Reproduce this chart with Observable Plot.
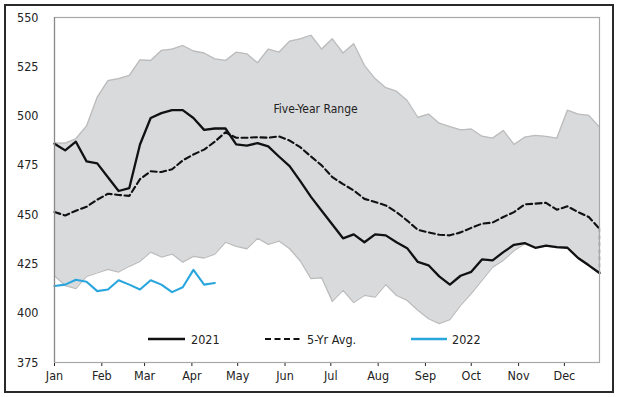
<!DOCTYPE html>
<html><head><meta charset="utf-8">
<script src="https://cdn.jsdelivr.net/npm/d3@7"></script>
<script src="https://cdn.jsdelivr.net/npm/@observablehq/plot@0.6"></script>
<style>
body{margin:0;background:#fff;}
#wrap{position:relative;width:620px;height:397px;font-family:"Liberation Sans Narrow","DejaVu Sans Condensed",sans-serif;}
#frame{position:absolute;left:4px;top:4px;width:606px;height:385px;border:2px solid #2a2a2a;pointer-events:none;}
#legend{position:absolute;left:0;top:0;pointer-events:none;}
</style>
</head><body>
<div id="wrap"><div id="chart"></div><svg id="legend" width="620" height="397"></svg><div id="frame"></div></div>
<script>
const monthLabels = ["Jan","Feb","Mar","Apr","May","Jun","Jul","Aug","Sep","Oct","Nov","Dec"];
const yTicks = [375,400,425,450,475,500,525,550];
const seriesNames = ["2021","5-Yr Avg.","2022"];
const rangeLabel = "Five-Year Range";

const y2021 = [486,482.6,487,477,476,469,462,463.5,485.6,499,501.5,503,503,499,493,493.7,493.7,485.6,485,486.3,484.6,479.5,474.6,467,459,452,445,438,440,436,440,439.5,436,433,426,424.3,418.7,414.5,419,421,427.3,426.8,431,434.7,435.6,433.2,434.3,433.5,433.2,428,424.3,420.4];
const yAvg = [451.3,449.6,452,454,457.6,460.6,460,459.5,468,472,471.6,473,477.5,480.5,483,487,491.8,489,489,489.3,489,489.7,487.6,484.2,479.5,475,469,465.5,462.3,458,456.4,454.7,451.3,447,442.3,441,439.8,439.5,441,443.3,445.4,446,448.8,451.3,455.2,455.6,456,452.5,454.2,451.3,448.8,442.8];
const y2022 = [413.8,414.5,417,416,411.2,412,416.7,414.5,412,416.7,414.5,410.7,413.2,422,414.5,415.3];
const rangeHigh = [486.3,486.3,488.5,495,509.6,518,519,520.6,528.5,528.2,533.3,534,535.8,533,532,529,528.2,532.4,531.6,527,534,532.4,538,539.2,541,534,539.2,532,536.7,525.7,519,514.4,512.6,507.9,499.4,501,496.4,494.7,493,493.4,489.8,488.8,492.7,485.6,489.3,490.2,489.7,488.8,503,501,500.3,494.4];
const rangeLow = [419,414,412.5,418.7,420.4,422.2,420.9,423.8,426.3,431,428.5,430,425.9,428.8,428,430,436,433.9,432.7,438,434.9,436.6,432.7,426.5,417.5,418,406,411.6,405.4,409,408.2,414.5,409,406.5,401.5,397.2,394.7,396.7,404,410,416.7,423.4,426.8,431.7,435.2,433,434,433.3,433,427.8,424,420];

const weekDate = i => new Date(Date.UTC(2021, 0, 1 + 7 * i));
const band = rangeHigh.map((h, i) => ({date: weekDate(i), hi: h, lo: rangeLow[i]}));
const d2021 = y2021.map((v, i) => ({date: weekDate(i), v}));
const dAvg = yAvg.map((v, i) => ({date: weekDate(i), v}));
const d2022 = y2022.map((v, i) => ({date: weekDate(i), v}));
const monthTicks = monthLabels.map((m, i) => new Date(Date.UTC(2021, i, 1)));
const lastWeek = weekDate(yAvg.length - 1);

const chart = Plot.plot({
  width: 620, height: 397,
  marginLeft: 54, marginRight: 21, marginTop: 17, marginBottom: 35,
  style: {fontFamily: '"Liberation Sans Narrow","DejaVu Sans Condensed",sans-serif', fontSize: "12.5px", color: "#222", background: "transparent"},
  x: {type: "utc", domain: [weekDate(0), lastWeek], ticks: monthTicks, tickFormat: d => monthLabels[d.getUTCMonth()], label: null, tickSize: 4, tickPadding: 5},
  y: {domain: [375, 550], ticks: yTicks, label: null, tickSize: 0, tickPadding: 16},
  marks: [
    Plot.areaY(band, {x: "date", y1: "lo", y2: "hi", fill: "#d9dadc"}),
    Plot.line(band, {x: "date", y: "hi", stroke: "#bcbcbc", strokeWidth: 1.3}),
    Plot.line(band, {x: "date", y: "lo", stroke: "#bcbcbc", strokeWidth: 1.3}),
    Plot.text([rangeLabel], {x: new Date(Date.UTC(2021, 5, 21)), y: 503.5, text: d => d, fontSize: 12, fill: "#222"}),
    Plot.ruleX([lastWeek], {y1: yAvg[yAvg.length - 1], y2: y2021[y2021.length - 1], stroke: "#333", strokeWidth: 1.3, strokeDasharray: "4,3"}),
    Plot.line(dAvg, {x: "date", y: "v", stroke: "#111", strokeWidth: 2.1, strokeDasharray: "6,3.5"}),
    Plot.line(d2021, {x: "date", y: "v", stroke: "#111", strokeWidth: 2.3}),
    Plot.line(d2022, {x: "date", y: "v", stroke: "#2aa6de", strokeWidth: 2.1}),
    Plot.frame({stroke: "#a8a8a8", strokeWidth: 1.2}),
    Plot.ruleX([weekDate(0)], {stroke: "#8a8a8a", strokeWidth: 1.2})
  ]
});
document.getElementById("chart").appendChild(chart);

const leg = d3.select("#legend");
const items = [
  {name: seriesNames[0], x0: 148, x1: 185, tx: 191, stroke: "#111", dash: null},
  {name: seriesNames[1], x0: 265, x1: 302, tx: 307, stroke: "#111", dash: "6,3.5"},
  {name: seriesNames[2], x0: 411, x1: 447, tx: 452, stroke: "#2aa6de", dash: null}
];
items.forEach(it => {
  leg.append("line").attr("x1", it.x0).attr("x2", it.x1).attr("y1", 339).attr("y2", 339)
    .attr("stroke", it.stroke).attr("stroke-width", it.dash ? 2.1 : 2.3).attr("stroke-dasharray", it.dash);
  leg.append("text").attr("x", it.tx).attr("y", 343.5).attr("font-size", 12.5).attr("fill", "#222")
    .attr("font-family", '"Liberation Sans Narrow","DejaVu Sans Condensed",sans-serif').text(it.name);
});
</script>
</body></html>
